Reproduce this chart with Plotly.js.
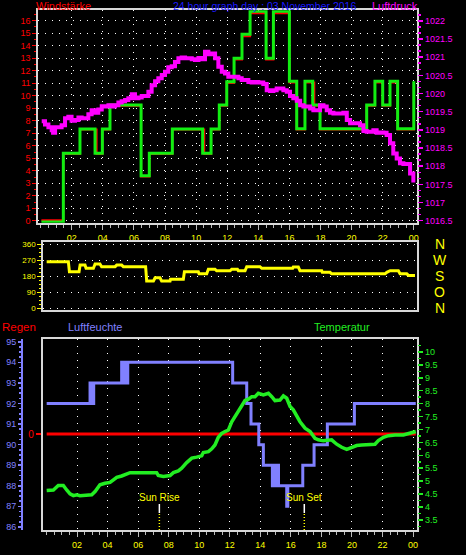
<!DOCTYPE html>
<html><head><meta charset="utf-8">
<script src="https://cdn.plot.ly/plotly-3.0.1.min.js"></script>
<style>html,body{margin:0;padding:0;background:#000;overflow:hidden;}</style>
</head><body><div id="chart" style="width:466px;height:555px;"></div>
<script>
// ---- tick labels ----
const hourTicks = [2,4,6,8,10,12,14,16,18,20,22,24];
const hourLabels = ['02','04','06','08','10','12','14','16','18','20','22','00'];
const compassVals = [0,90,180,270,360];
const compassLabels = ['N','O','S','W','N'];

// ---- top panel: Windstärke (gust, green) ----
const gustTimes = [0.05,1.46,2.53,3.5,3.97,4.46,6.46,6.99,8.47,10.42,10.96,11.49,11.97,12.44,12.95,13.47,14.5,14.97,16.0,16.47,17.0,17.5,17.97,20.97,21.5,22.0,22.47,22.96,24.0];
const gustValues = [-0.1,5.4,7.35,5.4,7.35,9.26,3.6,5.4,7.35,5.4,7.35,9.26,11.12,13.0,14.92,16.75,13.0,16.75,11.15,7.36,11.15,9.26,7.36,9.26,11.15,9.26,11.15,7.36,11.15];
// ---- top panel: Windstärke (average, red) ----
const avgTimes = [0.05,1.46,2.53,3.6,3.97,4.46,6.46,6.99,8.47,10.52,10.96,11.49,11.97,12.44,12.95,13.47,14.5,14.97,16.0,16.47,17.0,17.6,17.97,20.97,21.5,22.0,22.47,22.96,24.0];
const avgValues = [0.05,5.35,7.3,5.35,7.3,9.2,3.55,5.35,7.3,5.35,7.3,9.2,11.02,12.9,14.75,16.6,12.9,16.6,11.05,7.3,11.05,9.2,7.3,9.2,11.05,9.2,11.05,7.3,11.05];

// ---- top panel: Luftdruck ----
const pressTimes = [0.07,0.28,0.50,0.71,0.80,0.93,1.14,1.35,1.57,1.78,1.99,2.21,2.43,2.64,2.86,3.07,3.28,3.50,3.71,3.93,4.14,4.36,4.57,4.78,5.00,5.21,5.43,5.64,5.86,6.07,6.29,6.50,6.71,6.93,7.14,7.36,7.57,7.79,8.00,8.21,8.43,8.64,8.86,9.07,9.29,9.50,9.72,9.93,10.15,10.36,10.57,10.79,11.00,11.22,11.43,11.65,11.86,12.07,12.29,12.50,12.72,12.93,13.15,13.36,13.57,13.79,14.00,14.32,14.54,14.75,14.97,15.18,15.40,15.61,15.83,16.04,16.25,16.47,16.69,16.90,17.11,17.33,17.54,17.75,17.97,18.19,18.40,18.61,18.83,19.04,19.26,19.47,19.69,19.90,20.11,20.33,20.54,20.76,20.97,21.19,21.40,21.61,21.83,22.04,22.25,22.47,22.68,22.90,23.11,23.33,23.54,23.76,23.97];
const pressValues = [1019.24,1019.15,1019.07,1018.99,1018.92,1019.07,1019.07,1019.13,1019.32,1019.36,1019.25,1019.27,1019.34,1019.32,1019.32,1019.43,1019.54,1019.47,1019.56,1019.65,1019.64,1019.68,1019.64,1019.68,1019.75,1019.79,1019.82,1019.87,1019.98,1019.87,1019.89,1019.93,1019.93,1020.05,1020.23,1020.34,1020.42,1020.51,1020.60,1020.72,1020.75,1020.87,1020.97,1020.99,1020.97,1020.97,1020.94,1020.92,1020.98,1020.94,1021.15,1021.08,1021.10,1020.97,1020.74,1020.60,1020.55,1020.46,1020.46,1020.46,1020.42,1020.37,1020.37,1020.32,1020.30,1020.32,1020.30,1020.26,1020.09,1020.07,1020.09,1020.14,1020.14,1020.09,1020.05,1019.93,1019.87,1019.80,1019.68,1019.64,1019.64,1019.59,1019.54,1019.54,1019.68,1019.64,1019.54,1019.47,1019.45,1019.45,1019.45,1019.47,1019.27,1019.18,1019.18,1019.18,1019.13,1018.97,1018.95,1018.95,1018.99,1018.92,1018.93,1018.92,1018.86,1018.63,1018.35,1018.21,1018.08,1018.06,1018.06,1017.80,1017.55];

// ---- middle panel: Windrichtung ----
const dirTimes = [0.01,1.43,1.5,2.13,2.2,2.52,2.59,3.07,3.18,3.5,3.61,4.49,4.6,4.92,5.03,6.49,6.56,7.0,7.11,7.43,7.54,8.09,8.12,8.96,9.03,9.94,9.99,10.49,10.6,11.03,11.14,12.02,12.13,12.5,12.56,13.0,13.11,13.98,14.09,16.12,16.16,16.49,16.6,18.02,18.06,18.57,18.67,22.17,22.28,22.5,23.04,23.15,23.59,23.7,24.13];
const dirValues = [262,262,206,206,243,243,225,225,249,249,234,234,243,243,234,234,153,153,172,172,153,153,164,164,206,206,194,194,220,220,211,211,220,220,211,211,234,234,225,225,232,232,211,211,202,202,194,194,202,211,211,194,194,185,185];

// ---- bottom panel: Luftfeuchte ----
const humTimes = [0.01,2.85,2.89,2.93,2.97,3.01,3.05,3.09,4.92,4.96,5.00,5.04,5.08,5.12,5.16,5.20,5.24,5.28,5.32,12.19,13.11,13.39,13.9,14.2,14.79,14.83,14.87,14.91,14.95,14.99,15.03,15.07,15.11,15.15,15.19,15.73,15.8,16.78,17.52,18.39,20.16,24.18];
const humValues = [92,93,92,93,92,93,92,93,94,93,94,93,94,93,94,93,94,93,94,93,92,91,90,89,88,89,88,89,88,89,88,89,88,89,88,87,88,89,90,91,92,92];

// ---- bottom panel: Temperatur ----
const tempTimes = [0.01,0.45,0.77,1.10,1.32,1.54,1.76,1.98,2.19,2.63,2.96,3.18,3.50,3.83,4.16,4.38,4.60,4.92,5.25,5.47,5.91,7.21,7.32,7.65,8.09,8.31,8.63,8.85,9.18,9.51,9.83,10.16,10.27,10.60,10.82,11.03,11.25,11.47,11.69,11.91,12.13,12.34,12.56,12.78,13.00,13.22,13.44,13.65,13.87,14.20,14.53,14.75,14.96,15.29,15.51,15.73,15.95,16.16,16.38,16.60,16.93,17.26,17.58,17.80,18.13,18.46,18.67,19.00,19.33,19.66,19.99,20.31,20.64,21.08,21.51,21.73,22.06,22.39,22.82,23.37,23.80,24.18];
const tempValues = [4.64,4.66,4.83,4.83,4.66,4.51,4.44,4.47,4.44,4.44,4.47,4.60,4.86,4.92,4.95,5.05,5.15,5.20,5.28,5.33,5.33,5.33,5.22,5.18,5.22,5.33,5.40,5.50,5.72,5.89,5.93,5.98,6.11,6.14,6.25,6.40,6.70,6.85,6.92,6.98,7.30,7.50,7.76,7.95,8.12,8.17,8.27,8.27,8.40,8.34,8.40,8.27,8.12,8.14,8.30,8.21,7.89,7.76,7.50,7.30,7.05,6.92,6.66,6.60,6.56,6.57,6.60,6.43,6.31,6.23,6.30,6.38,6.40,6.40,6.43,6.57,6.70,6.76,6.79,6.79,6.85,6.92];

// ---- bottom panel: Regen ----
const rainTimes = [0.01,24.18];
const rainValues = [0,0];

// ---- sun events ----
const sunTimes = [7.39,16.88];
const sunLabels = ['Sun Rise','Sun Set'];

// ================= layout helpers =================
const W = 466, H = 555;
const px = v => v / W;
const py = v => 1 - v / H;
const FONT = 'Liberation Sans, Arial, sans-serif';
const BORDER = '#d8d8d8';
const GRIDDASH = '1px,6px';

const traces = [
  {x: avgTimes, y: avgValues, xaxis:'x', yaxis:'y', mode:'lines', line:{shape:'hv', color:'#ff0000', width:2}, hoverinfo:'skip'},
  {x: gustTimes, y: gustValues, xaxis:'x', yaxis:'y', mode:'lines', line:{shape:'hv', color:'#11ee11', width:3}, hoverinfo:'skip'},
  {x: pressTimes, y: pressValues, xaxis:'x', yaxis:'y2', mode:'lines', line:{shape:'hv', color:'#ff00ff', width:4}, hoverinfo:'skip'},
  {x: dirTimes, y: dirValues, xaxis:'x2', yaxis:'y3', mode:'lines', line:{color:'#ffff00', width:3}, hoverinfo:'skip'},
  {x: rainTimes, y: rainValues, xaxis:'x3', yaxis:'y5', mode:'lines', line:{color:'#ff0000', width:3}, hoverinfo:'skip'},
  {x: humTimes, y: humValues, xaxis:'x3', yaxis:'y6', mode:'lines', line:{shape:'hv', color:'#8080ff', width:3}, hoverinfo:'skip'},
  {x: tempTimes, y: tempValues, xaxis:'x3', yaxis:'y7', mode:'lines', line:{color:'#22ee22', width:3.5}, hoverinfo:'skip'}
];

const topDom = [py(222.7), py(10.3)];
const midDom = [py(310), py(242.3)];
const botDom = [py(530), py(339.3)];

const shapes = [];
sunTimes.forEach(t => {
  shapes.push({type:'line', xref:'x3', yref:'paper', x0:t, x1:t, y0:py(513), y1:py(504), line:{color:'#ffffff', width:1.5}});
  shapes.push({type:'line', xref:'x3', yref:'paper', x0:t, x1:t, y0:py(530), y1:py(513), line:{color:'#ffff00', width:1.5, dash:'1px,2px'}});
});

const annotations = [
  {text:'Windstärke', x:px(34), y:py(6), xanchor:'left', font:{color:'#ff0000', size:11}},
  {text:'24 hour graph day : 03 November 2016', x:px(171), y:py(6), xanchor:'left', font:{color:'#1a1aff', size:10.5}},
  {text:'Luftdruck', x:px(370), y:py(6), xanchor:'left', font:{color:'#ff00ff', size:11}},
  {text:'Regen', x:px(0), y:py(327), xanchor:'left', font:{color:'#ff0000', size:11.5}},
  {text:'Luftfeuchte', x:px(66), y:py(327), xanchor:'left', font:{color:'#8080ff', size:11}},
  {text:'Temperatur', x:px(312), y:py(327), xanchor:'left', font:{color:'#22ee22', size:11}}
].map(a => Object.assign({xref:'paper', yref:'paper', yanchor:'middle', showarrow:false}, a));
sunTimes.forEach((t,i) => annotations.push({
  text: sunLabels[i], xref:'x3', yref:'paper', x:t, y:py(497.5), xanchor:'center', yanchor:'middle',
  showarrow:false, font:{color:'#ffff00', size:10}
}));
// compass letters on the right of the wind-direction panel
compassVals.forEach((v,i) => annotations.push({
  text: compassLabels[i], xref:'paper', yref:'y3', x:px(439.5), y:v, xanchor:'center', yanchor:'middle',
  showarrow:false, font:{color:'#ffff00', size:14}
}));

const hourAxis = (dom, anchor, ranges, showLabels, grid) => ({
  domain: dom, anchor: anchor, range: ranges,
  tickmode:'array', tickvals: hourTicks, ticktext: hourLabels,
  showticklabels: showLabels, tickfont:{color:'#ffff00', size:9},
  ticks:'outside', ticklen:5, tickcolor:'#bbbbbb', tickwidth:1,
  minor:{dtick:0.5, tick0:0, ticks:'outside', ticklen:3, tickcolor:'#bbbbbb', showgrid:false},
  showgrid: grid, gridcolor:'#ffffff', griddash: GRIDDASH, gridwidth:1,
  showline:true, mirror:true, linecolor:BORDER, linewidth:2, zeroline:false, fixedrange:true
});

const layout = {
  width: W, height: H, autosize:false,
  margin:{l:0, r:0, t:0, b:0, pad:0},
  paper_bgcolor:'#000000', plot_bgcolor:'#000000',
  font:{family: FONT, color:'#ffffff', size:9},
  showlegend:false,
  xaxis: hourAxis([px(38.3), px(417.3)], 'y', [-0.15, 24.225], true, true),
  xaxis2: Object.assign(hourAxis([px(43.3), px(416.7)], 'y3', [-0.21, 24.24], false, false), {ticks:'', minor:{ticks:''}}),
  xaxis3: hourAxis([px(42.7), px(417.3)], 'y5', [-0.25, 24.28], true, true),
  yaxis: {
    domain: topDom, anchor:'x', range:[-0.15, 16.83], dtick:1, tick0:0,
    tickfont:{color:'#ff0000', size:9}, ticks:'outside', ticklen:4, tickcolor:'#ff0000',
    minor:{dtick:0.5, ticks:'outside', ticklen:2, tickcolor:'#ff0000', showgrid:false},
    showgrid:true, gridcolor:'#ffffff', griddash:GRIDDASH, gridwidth:1,
    showline:true, mirror:true, linecolor:BORDER, linewidth:2, zeroline:false, fixedrange:true
  },
  yaxis2: {
    overlaying:'y', side:'right', anchor:'x', range:[1016.445, 1022.29], dtick:0.5, tick0:1016.5,
    tickformat:'~g',
    tickfont:{color:'#ff00ff', size:9}, ticks:'outside', ticklen:5, tickcolor:'#ff00ff', tickwidth:1.5,
    minor:{dtick:0.5/3, tick0:1016.5, ticks:'outside', ticklen:3, tickcolor:'#ff00ff', showgrid:false},
    showgrid:false, showline:false, zeroline:false, fixedrange:true
  },
  yaxis3: {
    domain: midDom, anchor:'x2', range:[-9.5, 371], tickmode:'array', tickvals: compassVals,
    tickfont:{color:'#ffff00', size:8}, ticks:'outside', ticklen:4, tickcolor:'#ffff00',
    minor:{dtick:22.5, tick0:0, ticks:'outside', ticklen:2, tickcolor:'#ffff00', showgrid:false},
    showgrid:true, gridcolor:'#ffffff', griddash:GRIDDASH, gridwidth:1,
    showline:true, mirror:true, linecolor:BORDER, linewidth:2, zeroline:false, fixedrange:true
  },
  yaxis5: {
    domain: botDom, anchor:'x3', side:'left', range:[-1.006, 0.994],
    tickmode:'array', tickvals: rainValues.slice(0,1), ticktext:['0'],
    tickfont:{color:'#ff0000', size:10}, ticks:'outside', ticklen:5, tickcolor:'#ff0000', tickwidth:1.5,
    showgrid:false, showline:true, mirror:true, linecolor:BORDER, linewidth:2, zeroline:false, fixedrange:true
  },
  yaxis6: {
    overlaying:'y5', anchor:'free', position: px(22), side:'left', range:[85.85, 95.12], dtick:1, tick0:86,
    tickfont:{color:'#8080ff', size:9}, ticks:'outside', ticklen:3, tickcolor:'#8080ff', tickwidth:1.5,
    minor:{dtick:0.25, ticks:'outside', ticklen:2, tickcolor:'#8080ff', showgrid:false},
    showgrid:false, showline:true, linecolor:'#8080ff', linewidth:2, zeroline:false, fixedrange:true
  },
  yaxis7: {
    overlaying:'y5', side:'right', anchor:'x3', range:[3.11, 10.49], dtick:0.5, tick0:3.5,
    tickformat:'~g',
    tickfont:{color:'#22ee22', size:9}, ticks:'outside', ticklen:5, tickcolor:'#22ee22', tickwidth:1.5,
    minor:{dtick:0.25, ticks:'outside', ticklen:3, tickcolor:'#22ee22', showgrid:false},
    showgrid:false, showline:false, zeroline:false, fixedrange:true
  },
  yaxis8: {
    overlaying:'y5', anchor:'x3', side:'left', range:[-0.18, 10.30], dtick:1, tick0:0,
    showticklabels:false, ticks:'',
    showgrid:true, gridcolor:'#ffffff', griddash:GRIDDASH, gridwidth:1,
    showline:false, zeroline:false, fixedrange:true
  },
  shapes: shapes,
  annotations: annotations
};

Plotly.newPlot('chart', traces, layout, {staticPlot:true, displayModeBar:false});
</script>
</body></html>
